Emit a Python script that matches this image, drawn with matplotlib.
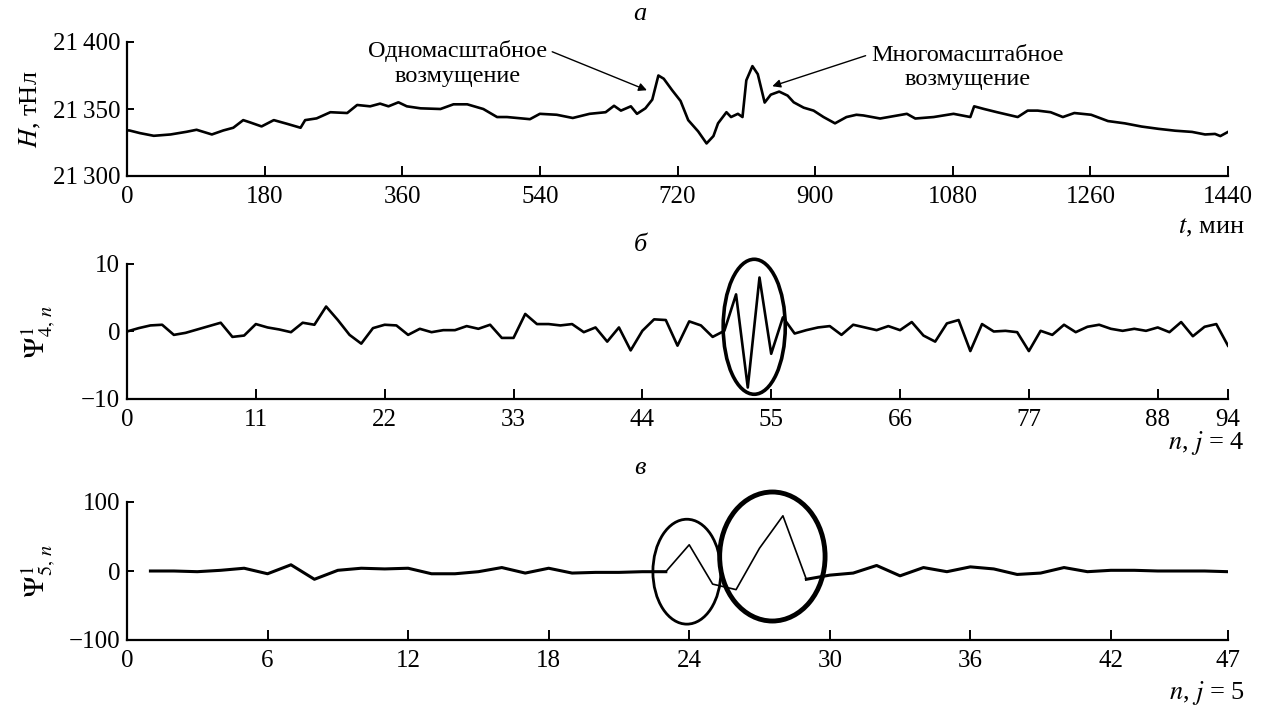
import matplotlib
matplotlib.use('Agg')
import matplotlib.pyplot as plt
from matplotlib.patches import Ellipse
import numpy as np

# --- data ---
# (a) H(t), nT
t_min = [0, 3, 17, 35, 57, 78, 91, 111, 126, 139, 152, 161, 176, 192, 209, 227, 233,
         248, 266, 288, 301, 318, 331, 342, 355, 366, 384, 410, 427, 445, 466, 484,
         497, 527, 540, 562, 583, 605, 626, 637, 646, 659, 667, 678, 687, 695, 702,
         713, 724, 734, 747, 758, 767, 773, 784, 790, 799, 805, 810, 818, 825, 834,
         842, 853, 864, 872, 885, 898, 911, 926, 941, 954, 963, 985, 1020, 1031,
         1055, 1081, 1103, 1108, 1121, 1138, 1165, 1178, 1191, 1208, 1224, 1239,
         1261, 1283, 1305, 1327, 1349, 1371, 1393, 1410, 1423, 1430, 1440]
H_nT = [21334, 21334, 21332, 21330, 21331, 21333, 21334.5, 21331, 21334, 21336,
        21341.7, 21340, 21337, 21341.7, 21339, 21336, 21341.7, 21343, 21347.6,
        21347, 21353, 21352, 21354, 21352, 21355, 21352, 21350.5, 21350, 21353.5,
        21353.5, 21350, 21344, 21344, 21342.4, 21346.4, 21345.7, 21343.3, 21346.4,
        21347.6, 21352.4, 21348.8, 21352, 21346.4, 21350.5, 21357, 21375, 21372.6,
        21364, 21356, 21341.7, 21333.3, 21324.3, 21329.8, 21339.3, 21347.6, 21344,
        21346.4, 21344, 21371.4, 21382, 21376, 21354.8, 21360.7, 21363, 21360,
        21355, 21351, 21348.8, 21344, 21339.3, 21344, 21345.7, 21345.2, 21342.9,
        21346.4, 21342.9, 21344, 21346.4, 21344, 21352, 21350, 21347.6, 21344,
        21348.8, 21348.8, 21347.6, 21344, 21347, 21345.7, 21341, 21339.3, 21336.9,
        21335.2, 21333.8, 21332.9, 21331, 21331.4, 21329.8, 21332.9]

# (б) wavelet coefficients, j = 4, n = 0..94
psi4 = [0, 0.5, 0.9, 1.0, -0.5, -0.2, 0.3, 0.8, 1.3, -0.8, -0.6, 1.1, 0.6, 0.3,
        -0.1, 1.3, 1.0, 3.7, 1.7, -0.5, -1.8, 0.5, 1.0, 0.9, -0.5, 0.4, -0.1, 0.2,
        0.2, 0.8, 0.4, 1.0, -0.95, -0.95, 2.6, 1.1, 1.1, 0.9, 1.1, -0.1, 0.6, -1.5,
        0.6, -2.8, 0.1, 1.8, 1.7, -2.1, 1.5, 0.9, -0.8, 0.1, 5.5, -8.3, 8.0, -3.3,
        2.1, -0.3, 0.2, 0.6, 0.8, -0.5, 1.0, 0.6, 0.2, 0.8, 0.2, 1.4, -0.6, -1.5,
        1.2, 1.7, -2.9, 1.1, 0.0, 0.1, -0.1, -2.9, 0.1, -0.5, 1.0, -0.1, 0.7, 1.0,
        0.4, 0.1, 0.4, 0.1, 0.6, -0.1, 1.4, -0.7, 0.7, 1.1, -2.1]
n4 = np.arange(len(psi4))

# (в) wavelet coefficients, j = 5, n = 1..47
psi5 = [0, 0, -1, 1, 4, -4, 9, -12, 1, 4, 3, 4, -4, -4, -1, 5, -3, 4, -3, -2,
        -2, -1, -1, 38, -19, -27, 33, 80, -12, -6, -3, 8, -7, 5, -1, 6, 3, -5, -3,
        5, -1, 1, 1, 0, 0, 0, -1]
n5 = np.arange(1, len(psi5) + 1)

plt.rcParams['font.family'] = ['Liberation Serif', 'DejaVu Serif']
plt.rcParams['mathtext.fontset'] = 'stix'
plt.rcParams['font.size'] = 18

W, Hpx = 1268, 716
fig = plt.figure(figsize=(W / 100, Hpx / 100), dpi=100)

def px_axes(top, bottom, left=127, right=1228):
    return fig.add_axes([left / W, 1 - bottom / Hpx, (right - left) / W, (bottom - top) / Hpx])

def style(ax):
    for s in ['top', 'right']:
        ax.spines[s].set_visible(False)
    for s in ['left', 'bottom']:
        ax.spines[s].set_linewidth(1.6)
    ax.tick_params(direction='in', length=7, width=1.4, labelsize=18, pad=7)
    ax.tick_params(axis='y', length=5, pad=5)

# a
ax1 = px_axes(42, 176)
ax1.plot(t_min, H_nT, color='black', lw=1.9)
ax1.set_xlim(0, 1440)
ax1.set_ylim(21300, 21400)
ax1.set_xticks(np.arange(0, 1441, 180))
ax1.set_yticks([21300, 21350, 21400])
ax1.set_yticklabels(['21\u2009300', '21\u2009350', '21\u2009400'])
style(ax1)
ax1.set_ylabel(r'$H$, тНл', fontsize=19)
ax1.yaxis.set_label_coords(-0.076, 0.5)
ax1.annotate('Одномасштабное\nвозмущение', xy=(680, 21364), xytext=(432, 21384),
             ha='center', va='center', fontsize=17.5, linespacing=1.2,
             arrowprops=dict(arrowstyle='-|>', color='black', lw=1.0,
                             shrinkA=2, shrinkB=0, mutation_scale=12,
                             relpos=(1.0, 0.8)))
ax1.annotate('Многомасштабное\nвозмущение', xy=(844, 21367), xytext=(1099, 21381),
             ha='center', va='center', fontsize=17.5, linespacing=1.2,
             arrowprops=dict(arrowstyle='-|>', color='black', lw=1.0,
                             shrinkA=2, shrinkB=0, mutation_scale=12,
                             relpos=(0.0, 0.8)))
fig.text(640 / W, 1 - 14 / Hpx, 'а', ha='center', va='center', fontsize=19, style='italic')
fig.text(1245 / W, 1 - 228 / Hpx, r'$t$, мин', ha='right', va='center', fontsize=19)

# б
ax2 = px_axes(264, 399)
ax2.plot(n4, psi4, color='black', lw=1.9)
ax2.set_xlim(0, 94)
ax2.set_ylim(-10, 10)
ax2.set_xticks([0, 11, 22, 33, 44, 55, 66, 77, 88, 94])
ax2.set_yticks([-10, 0, 10])
style(ax2)
ax2.add_patch(Ellipse((53.55, 0.7), 5.3, 20, fill=False, lw=2.6, color='black', clip_on=False))
ax2.set_ylabel(r'$\Psi^1_{4,\,n}$', fontsize=21)
ax2.yaxis.set_label_coords(-0.064, 0.5)
fig.text(640 / W, 1 - 245 / Hpx, 'б', ha='center', va='center', fontsize=19, style='italic')
fig.text(1245 / W, 1 - 443 / Hpx, r'$n$, $j$ = 4', ha='right', va='center', fontsize=19)

# в
ax3 = px_axes(502, 640)
ax3.plot(n5[:23], psi5[:23], color='black', lw=2.2)
ax3.plot(n5[22:29], psi5[22:29], color='black', lw=1.2)
ax3.plot(n5[28:], psi5[28:], color='black', lw=2.2)
ax3.set_xlim(0, 47)
ax3.set_ylim(-100, 100)
ax3.set_xticks([0, 6, 12, 18, 24, 30, 36, 42, 47])
ax3.set_yticks([-100, 0, 100])
style(ax3)
ax3.add_patch(Ellipse((23.9, -1), 2.9, 152, fill=False, lw=2.0, color='black', clip_on=False))
ax3.add_patch(Ellipse((27.55, 21), 4.5, 187, fill=False, lw=3.5, color='black', clip_on=False))
ax3.set_ylabel(r'$\Psi^1_{5,\,n}$', fontsize=21)
ax3.yaxis.set_label_coords(-0.064, 0.5)
fig.text(640 / W, 1 - 468 / Hpx, 'в', ha='center', va='center', fontsize=19, style='italic')
fig.text(1245 / W, 1 - 693 / Hpx, r'$n$, $j$ = 5', ha='right', va='center', fontsize=19)

fig.savefig('out.png', dpi=100)
